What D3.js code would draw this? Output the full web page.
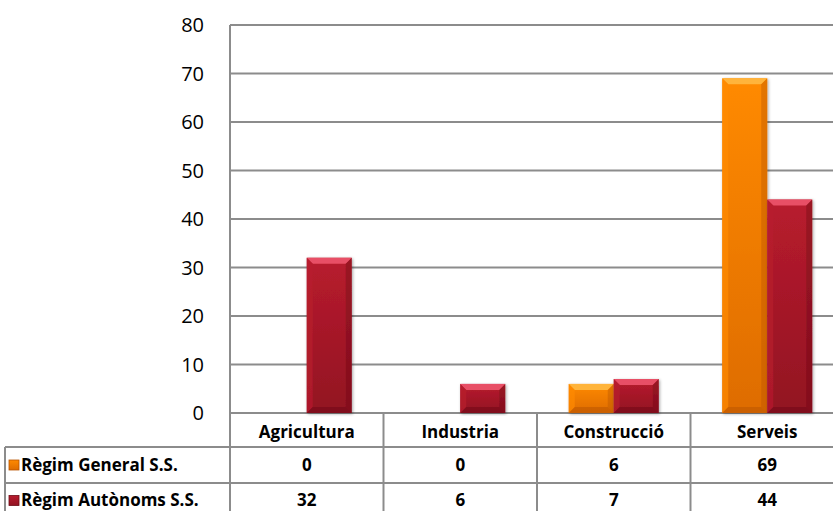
<!DOCTYPE html>
<html>
<head>
<meta charset="utf-8">
<script src="https://cdn.jsdelivr.net/npm/d3@7"></script>
<style>
  body { margin: 0; background: #fff; }
  svg { display: block; font-family: "Open Sans", Lato, sans-serif; }
</style>
</head>
<body>
<div id="chart"></div>
<script>
const categories = ["Agricultura", "Industria", "Construcció", "Serveis"];
const seriesNames = ["Règim General S.S.", "Règim Autònoms S.S."];
const general = [0, 0, 6, 69];
const autonoms = [32, 6, 7, 44];
const yTicks = [0, 10, 20, 30, 40, 50, 60, 70, 80];

const seriesValues = [general, autonoms];
const colors = [
    { light: "#ffb43a", main: "#ff8a00", dark: "#de6c00", edge: "#b85400" },
    { light: "#e85066", main: "#b81c2e", dark: "#921222", edge: "#6e0a16" }
];

const width = 833, height = 511;
const plotLeft = 230, plotRight = 844, plotTop = 25, plotBottom = 413;

const svg = d3.select("#chart").append("svg")
    .attr("width", width)
    .attr("height", height);

const defs = svg.append("defs");
colors.forEach((c, i) => {
    const g = defs.append("linearGradient")
        .attr("id", "grad" + i)
        .attr("x1", 0).attr("y1", 0).attr("x2", 0).attr("y2", 1);
    g.append("stop").attr("offset", "0%").attr("stop-color", c.main);
    g.append("stop").attr("offset", "100%").attr("stop-color", c.dark);
});
const shadow = defs.append("filter").attr("id", "shadow")
    .attr("x", "-20%").attr("y", "-5%").attr("width", "140%").attr("height", "115%");
shadow.append("feDropShadow").attr("dx", 1).attr("dy", 1)
    .attr("stdDeviation", 1.5).attr("flood-color", "#000").attr("flood-opacity", 0.35);

const y = d3.scaleLinear().domain([0, 80]).range([plotBottom, plotTop]);
const x0 = d3.scaleBand().domain(categories).range([plotLeft, plotRight]);
const groupW = 90;
const x1 = d3.scaleBand().domain([0, 1]).range([0, groupW]);

// gridlines
svg.append("g").selectAll("line")
    .data(yTicks)
    .enter().append("line")
    .attr("x1", plotLeft).attr("x2", plotRight)
    .attr("y1", d => y(d)).attr("y2", d => y(d))
    .style("stroke", "#8c8c8c")
    .style("stroke-width", 2);

// y labels
svg.append("g").selectAll("text")
    .data(yTicks)
    .enter().append("text")
    .attr("x", 204)
    .attr("y", d => y(d))
    .attr("dy", "0.35em")
    .attr("text-anchor", "end")
    .style("font-size", "20px")
    .style("fill", "#000")
    .text(d => d);

// bars with bevel
const bars = [];
categories.forEach((cat, ci) => {
    seriesValues.forEach((vals, si) => {
        if (vals[ci] > 0) bars.push({ cat, si, v: vals[ci] });
    });
});

const barG = svg.append("g").selectAll("g")
    .data(bars)
    .enter().append("g")
    .attr("filter", "url(#shadow)");

const bev = 6;
barG.each(function (d) {
    const g = d3.select(this);
    const c = colors[d.si];
    const bx = x0(d.cat) + (x0.bandwidth() - groupW) / 2 + x1(d.si);
    const bw = x1.bandwidth();
    const by = y(d.v);
    const bh = y(0) - y(d.v);
    const b = Math.min(bev, bh / 2);
    g.append("rect")
        .attr("x", bx).attr("y", by)
        .attr("width", bw).attr("height", bh)
        .style("fill", `url(#grad${d.si})`);
    g.append("polygon")
        .attr("points", [[bx, by], [bx + bw, by], [bx + bw - b, by + b], [bx + b, by + b]].join(" "))
        .style("fill", c.light);
    g.append("polygon")
        .attr("points", [[bx, by], [bx + b, by + b], [bx + b, by + bh - b], [bx, by + bh]].join(" "))
        .style("fill", c.main).style("opacity", 0.7);
    g.append("polygon")
        .attr("points", [[bx + bw, by], [bx + bw - b, by + b], [bx + bw - b, by + bh - b], [bx + bw, by + bh]].join(" "))
        .style("fill", c.edge).style("opacity", 0.4);
    g.append("polygon")
        .attr("points", [[bx, by + bh], [bx + b, by + bh - b], [bx + bw - b, by + bh - b], [bx + bw, by + bh]].join(" "))
        .style("fill", c.edge).style("opacity", 0.5);
});

// data table
const rowY = [413, 447, 483, 518];
const lineStyle = sel => sel.style("stroke", "#8c8c8c").style("stroke-width", 2);

// vertical left axis line and table column separators
svg.append("line").attr("x1", plotLeft).attr("x2", plotLeft).attr("y1", plotTop).attr("y2", height)
    .call(lineStyle);
categories.slice(1).forEach(cat => {
    svg.append("line").attr("x1", x0(cat)).attr("x2", x0(cat))
        .attr("y1", plotBottom).attr("y2", height).call(lineStyle);
});
// horizontal table lines
[rowY[1], rowY[2]].forEach(ry => {
    svg.append("line").attr("x1", 5).attr("x2", plotRight).attr("y1", ry).attr("y2", ry).call(lineStyle);
});
svg.append("line").attr("x1", 5).attr("x2", 5).attr("y1", rowY[1]).attr("y2", height).call(lineStyle);

// header
svg.append("g").selectAll("text")
    .data(categories)
    .enter().append("text")
    .attr("x", d => x0(d) + x0.bandwidth() / 2)
    .attr("y", (rowY[0] + rowY[1]) / 2 + 2)
    .attr("dy", "0.35em")
    .attr("text-anchor", "middle")
    .style("font-size", "17px")
    .style("font-weight", "bold")
    .text(d => d);

// rows
seriesValues.forEach((vals, si) => {
    const cy = (rowY[si + 1] + rowY[si + 2]) / 2;
    const c = colors[si];
    svg.append("rect")
        .attr("x", 9).attr("y", cy - 5)
        .attr("width", 10).attr("height", 10)
        .style("fill", `url(#grad${si})`)
        .style("stroke", c.edge).style("stroke-width", 0.8);
    svg.append("text")
        .attr("x", 21).attr("y", cy).attr("dy", "0.35em")
        .style("font-size", "17px").style("font-weight", "bold")
        .text(seriesNames[si]);
    svg.append("g").selectAll("text")
        .data(vals)
        .enter().append("text")
        .attr("x", (d, i) => x0(categories[i]) + x0.bandwidth() / 2)
        .attr("y", cy)
        .attr("dy", "0.35em")
        .attr("text-anchor", "middle")
        .style("font-size", "17px").style("font-weight", "bold")
        .text(d => d);
});
</script>
</body>
</html>
